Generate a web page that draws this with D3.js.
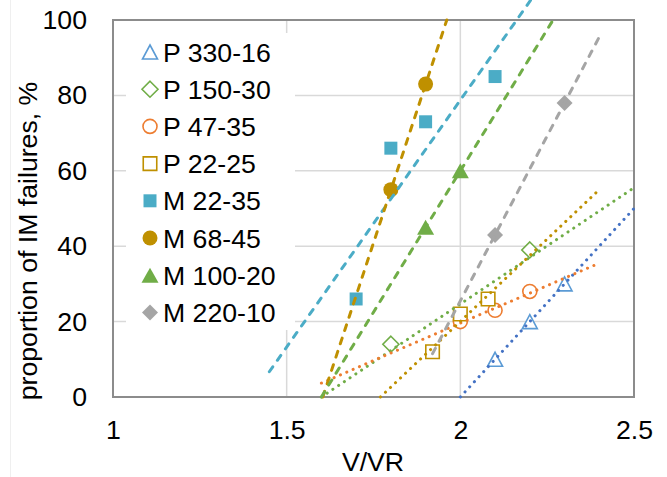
<!DOCTYPE html>
<html>
<head>
<meta charset="utf-8">
<script src="https://cdn.jsdelivr.net/npm/d3@7"></script>
<style>
  body { margin: 0; background: #fff; }
  svg { display: block; font-family: "Liberation Sans", Arial, sans-serif; }
</style>
</head>
<body>
<div id="chart"></div>
<script>
// series names, in legend order
const seriesNames = ["P 330-16", "P 150-30", "P 47-35", "P 22-25", "M 22-35", "M 68-45", "M 100-20", "M 220-10"];
const markerShapes = ["triangle", "diamond", "circle", "square", "square", "circle", "triangle", "diamond"];
const markerFilled = [false, false, false, false, true, true, true, true];
const markerColors = ["#5B9BD5", "#70AD47", "#ED7D31", "#BF9000", "#4BACC6", "#BF9000", "#70AD47", "#A5A5A5"];
const trendColors = ["#4472C4", "#70AD47", "#ED7D31", "#BF9000", "#4BACC6", "#BF9000", "#70AD47", "#A5A5A5"];

// measured points: V/VR and proportion of IM failures (%)
const xValues = [
  [2.1, 2.2, 2.3],
  [1.8, 2.2],
  [2.0, 2.1, 2.2],
  [1.92, 2.0, 2.08],
  [1.7, 1.8, 1.9, 2.1],
  [1.8, 1.9],
  [1.9, 2.0],
  [2.1, 2.3]
];
const yValues = [
  [10, 20, 30],
  [14, 39],
  [20, 23, 28],
  [12, 22, 26],
  [26, 66, 73, 85],
  [55, 83],
  [45, 60],
  [43, 78]
];

// linear trend lines, start and end as [V/VR, %]
const trendStart = [[2.0, 0], [1.6, 0], [1.6, 3.7], [1.77, 0], [1.45, 6.7], [1.604, 0], [1.6, 0], [1.92, 11.5]];
const trendEnd = [[2.5, 50], [2.5, 55.5], [2.4, 35.5], [2.4, 55], [2.25, 111.5], [1.961, 100], [2.267, 100], [2.4, 95.5]];

const xTicks = [1, 1.5, 2, 2.5];
const yTicks = [0, 20, 40, 60, 80, 100];

const W = 667, H = 477;
const margin = { top: 20, right: 33, bottom: 80, left: 113 };

const svg = d3.select("#chart").append("svg")
  .attr("width", W)
  .attr("height", H);

// faint chart-area edge on the left
svg.append("line")
  .attr("x1", 10.5).attr("x2", 10.5).attr("y1", 0).attr("y2", H)
  .attr("stroke", "#efefef").attr("stroke-width", 1);

const x = d3.scaleLinear().domain([1, 2.5]).range([margin.left, W - margin.right]);
const y = d3.scaleLinear().domain([0, 100]).range([H - margin.bottom, margin.top]);

// gridlines
const grid = svg.append("g");
grid.selectAll(".hg")
  .data(yTicks.slice(1, -1))
  .enter().append("line")
  .attr("x1", x(1)).attr("x2", x(2.5))
  .attr("y1", d => y(d)).attr("y2", d => y(d))
  .attr("stroke", "#d9d9d9").attr("stroke-width", 1.5);
grid.selectAll(".vg")
  .data(xTicks.slice(1, -1))
  .enter().append("line")
  .attr("x1", d => x(d)).attr("x2", d => x(d))
  .attr("y1", y(0)).attr("y2", y(100))
  .attr("stroke", "#d9d9d9").attr("stroke-width", 1.5);

// plot border
svg.append("rect")
  .attr("x", x(1)).attr("y", y(100))
  .attr("width", x(2.5) - x(1)).attr("height", y(0) - y(100))
  .attr("fill", "none").attr("stroke", "#8c8c8c").attr("stroke-width", 2);

// axes (labels only)
const xAxis = svg.append("g")
  .attr("transform", `translate(0,${y(0)})`)
  .call(d3.axisBottom(x).tickValues(xTicks).tickSize(0).tickPadding(23).tickFormat(d3.format("~g")));
const yAxis = svg.append("g")
  .attr("transform", `translate(${x(1)},0)`)
  .call(d3.axisLeft(y).tickValues(yTicks).tickSize(0).tickPadding(26));
[xAxis, yAxis].forEach(a => {
  a.select(".domain").remove();
  a.selectAll("text")
    .attr("fill", "#000")
    .style("font-size", "26.67px")
    .style("font-family", "'Liberation Sans', Arial, sans-serif");
});

// marker path builder
function markerPath(shape, filled) {
  const p = d3.path();
  if (shape === "triangle") {
    const w = filled ? 17 : 15, h = filled ? 15 : 14;
    p.moveTo(0, -h / 2); p.lineTo(w / 2, h / 2); p.lineTo(-w / 2, h / 2); p.closePath();
  } else if (shape === "diamond") {
    const r = 8;
    p.moveTo(0, -r); p.lineTo(r, 0); p.lineTo(0, r); p.lineTo(-r, 0); p.closePath();
  } else if (shape === "circle") {
    const r = filled ? 7.5 : 7;
    p.moveTo(r, 0); p.arc(0, 0, r, 0, 2 * Math.PI); p.closePath();
  } else {
    const s = filled ? 13 : 13.5;
    p.rect(-s / 2, -s / 2, s, s);
  }
  return p.toString();
}

function styleMarker(sel, i) {
  sel.attr("d", markerPath(markerShapes[i], markerFilled[i]))
    .attr("fill", markerFilled[i] ? markerColors[i] : "#fff")
    .attr("stroke", markerColors[i])
    .attr("stroke-width", markerFilled[i] ? 0 : 1.6);
}

// markers
seriesNames.forEach((name, i) => {
  const pts = xValues[i].map((v, j) => [v, yValues[i][j]]);
  svg.append("g").selectAll("path")
    .data(pts)
    .enter().append("path")
    .attr("transform", d => `translate(${x(d[0])},${y(d[1])})`)
    .each(function () { styleMarker(d3.select(this), i); });
});

// trend lines
const line = d3.line().x(d => x(d[0])).y(d => y(d[1]));
seriesNames.forEach((name, i) => {
  const isM = name.startsWith("M");
  svg.append("path")
    .datum([trendStart[i], trendEnd[i]])
    .attr("d", line)
    .attr("fill", "none")
    .attr("stroke", trendColors[i])
    .attr("stroke-width", 3)
    .attr("stroke-linecap", "round")
    .attr("stroke-dasharray", isM ? "6 8" : "0.1 6.8");
});

// legend
const legend = svg.append("g");
legend.append("rect")
  .attr("x", 126).attr("y", 33).attr("width", 169).attr("height", 297)
  .attr("fill", "#fff");
const rows = legend.selectAll("g.row")
  .data(seriesNames)
  .enter().append("g")
  .attr("transform", (d, i) => `translate(150,${52 + i * 37.2})`);
rows.append("path").each(function (d, i) { styleMarker(d3.select(this), i); });
rows.append("text")
  .attr("x", 13)
  .attr("dy", "0.36em")
  .style("font-size", "26.67px")
  .attr("fill", "#000")
  .text(d => d);

// axis titles
svg.append("text")
  .attr("x", (x(1) + x(2.5)) / 2 - 0.5)
  .attr("y", 471)
  .attr("text-anchor", "middle")
  .style("font-size", "26.67px")
  .text("V/VR");
svg.append("text")
  .attr("transform", "translate(37,241) rotate(-90)")
  .attr("text-anchor", "middle")
  .style("font-size", "26.67px")
  .text("proportion of IM failures, %");
</script>
</body>
</html>
